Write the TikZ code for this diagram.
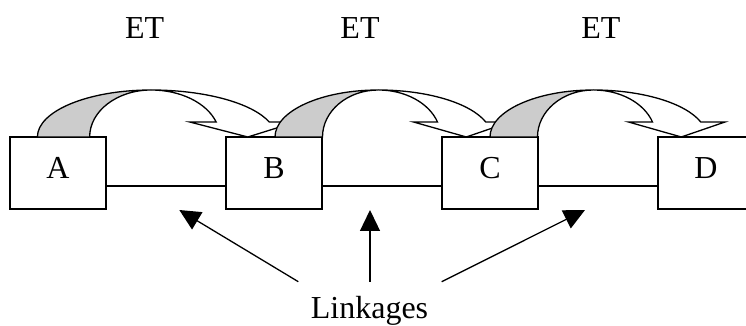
\documentclass[tikz,border=0pt]{standalone}
\usepackage{fontspec}
\setmainfont{Liberation Serif}
\usetikzlibrary{arrows.meta}
\tikzset{
etarrow/.pic={
  \filldraw[fill=gray!40] (0,0) arc[start angle=180,end angle=90,x radius=103.3,y radius=47]
    arc[start angle=90,end angle=180,x radius=55.8,y radius=47] -- cycle;
  \filldraw[fill=white] (103.3,47) arc[start angle=90,end angle=18.6,x radius=113.4,y radius=47]
    -- (235,15) -- (191.3,0) -- (138.5,15) -- (162.5,15)
    arc[start angle=18.6,end angle=90,x radius=62.4,y radius=47] -- cycle;
  },
box/.style={draw, fill=white, minimum width=96pt, minimum height=72pt, inner sep=0pt, text depth=10pt},
link/.style={-{Triangle[length=21pt,width=20pt]}}
}

\begin{document}
\begin{tikzpicture}[x=1pt,y=1pt,line width=1.3pt,font=\fontsize{32}{38}\selectfont]
\useasboundingbox (0,0) rectangle (746,326);
\clip (0,0) rectangle (746,326);

\node[box] (A) at (58,153) {A};
\node[box] (B) at (274,153) {B};
\node[box] (C) at (490,153) {C};
\node[box] (D) at (706,153) {D};

\draw ([yshift=-13pt]A.east) -- ([yshift=-13pt]B.west);
\draw ([yshift=-13pt]B.east) -- ([yshift=-13pt]C.west);
\draw ([yshift=-13pt]C.east) -- ([yshift=-13pt]D.west);

\pic[x=1.1pt] at (34,189) {etarrow};
\pic at (275,189) {etarrow};
\pic at (490,189) {etarrow};

\node[anchor=base] (et1) at (144.7,287.7) {ET};
\node[anchor=base] (et2) at (360,287.7) {ET};
\node[anchor=base] (et3) at (600.8,287.7) {ET};

\node[anchor=base] (lnk) at (369.5,7.5) {Linkages};
\coordinate (s1) at (298.3,44.3);
\coordinate (s2) at (370,44.3);
\coordinate (s3) at (441.7,44.3);
\coordinate (t1) at (179.3,116);
\coordinate (t2) at (370,116);
\coordinate (t3) at (585,116);
\draw[link] (s1) -- (t1);
\draw[link] (s2) -- (t2);
\draw[link] (s3) -- (t3);

\end{tikzpicture}
\end{document}
